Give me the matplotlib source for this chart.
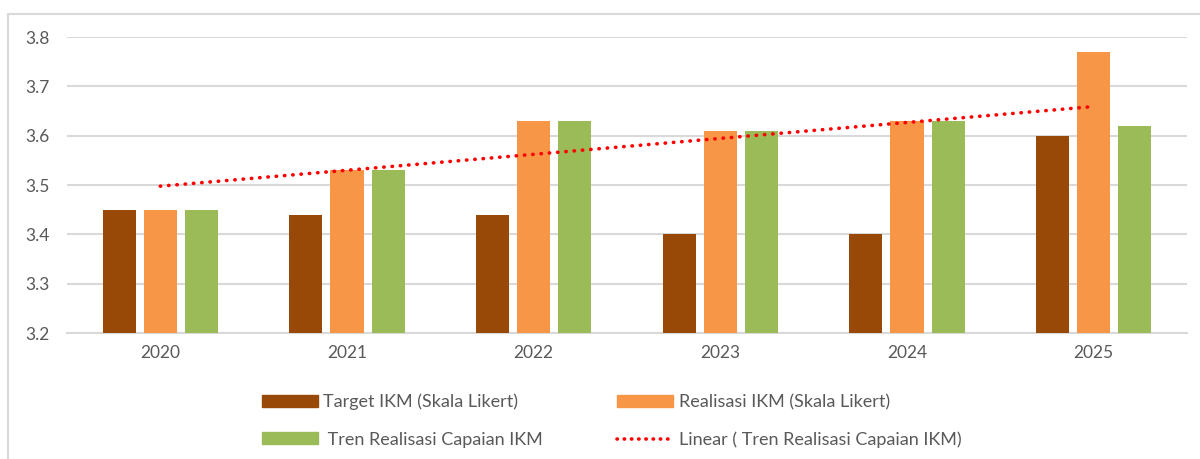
import numpy as np
import matplotlib
matplotlib.use("Agg")
import matplotlib.pyplot as plt
from matplotlib.patches import Rectangle
from matplotlib.lines import Line2D

years = ["2020", "2021", "2022", "2023", "2024", "2025"]
target = [3.45, 3.44, 3.44, 3.40, 3.40, 3.60]
realisasi = [3.45, 3.53, 3.63, 3.61, 3.63, 3.77]
tren = [3.45, 3.53, 3.63, 3.61, 3.63, 3.62]
series_names = ["Target IKM (Skala Likert)", "Realisasi IKM (Skala Likert)",
                "Tren Realisasi Capaian IKM", "Linear ( Tren Realisasi Capaian IKM)"]
yticks = [3.2, 3.3, 3.4, 3.5, 3.6, 3.7, 3.8]

c_brown = "#984807"
c_orange = "#F79646"
c_green = "#9BBB59"
c_grid = "#D9D9D9"
c_text = "#595959"

plt.rcParams['font.family'] = ['Lato', 'DejaVu Sans']

W, H = 1200, 459
fig = plt.figure(figsize=(12, 4.59), dpi=100)

# outer chart border
fig.patches.append(Rectangle((8 / W, -0.1), 1.2, 1 - 14 / H + 0.1, transform=fig.transFigure,
                             fill=False, edgecolor=c_grid, linewidth=1.5))

ax = fig.add_axes([67 / W, (H - 333) / H, 1120 / W, 296 / H])
x = np.arange(len(years))
bw = 0.177
step = 0.221
ax.bar(x - step, target, bw, color=c_brown, zorder=3)
ax.bar(x, realisasi, bw, color=c_orange, zorder=3)
ax.bar(x + step, tren, bw, color=c_green, zorder=3)

coef = np.polyfit(x, tren, 1)
dot_style = (0, (0.1, 2.2))
ax.plot(x, np.polyval(coef, x), color="#FF0000", linestyle=dot_style,
        linewidth=2.6, dash_capstyle="round", zorder=4)

ax.set_xlim(-0.5, len(years) - 0.5)
ax.set_ylim(3.2, 3.8)
ax.set_yticks(yticks)
ax.set_yticklabels([f"{v:.1f}" for v in yticks])
ax.set_xticks(x)
ax.set_xticklabels(years)
ax.grid(axis="y", color=c_grid, linewidth=1.5, zorder=0)
ax.set_axisbelow(True)
for s in ["top", "right", "left"]:
    ax.spines[s].set_visible(False)
ax.spines["bottom"].set_color(c_grid)
ax.spines["bottom"].set_linewidth(1.5)
ax.tick_params(axis="both", length=0, labelsize=12.5, colors=c_text)
ax.tick_params(axis="y", pad=12.5)
ax.tick_params(axis="x", pad=9)

handles = [
    Rectangle((0, 0), 1, 1, color=c_brown),
    Rectangle((0, 0), 1, 1, color=c_green),
    Rectangle((0, 0), 1, 1, color=c_orange),
    Line2D([0], [0], color="#FF0000", linestyle=(0, (0.1, 1.9)), linewidth=2.6,
           dash_capstyle="round"),
]
labels = [series_names[0], " " + series_names[2], series_names[1], series_names[3]]
leg = fig.legend(handles, labels, ncol=2, loc="center left",
                 bbox_to_anchor=(262 / W, (H - 421) / H), frameon=False,
                 fontsize=13, handlelength=3.1, handleheight=0.62, handletextpad=0.3,
                 columnspacing=4.1, labelspacing=1.17, borderaxespad=0, borderpad=0)
for t in leg.get_texts():
    t.set_color(c_text)

fig.savefig("out.png", dpi=100)
